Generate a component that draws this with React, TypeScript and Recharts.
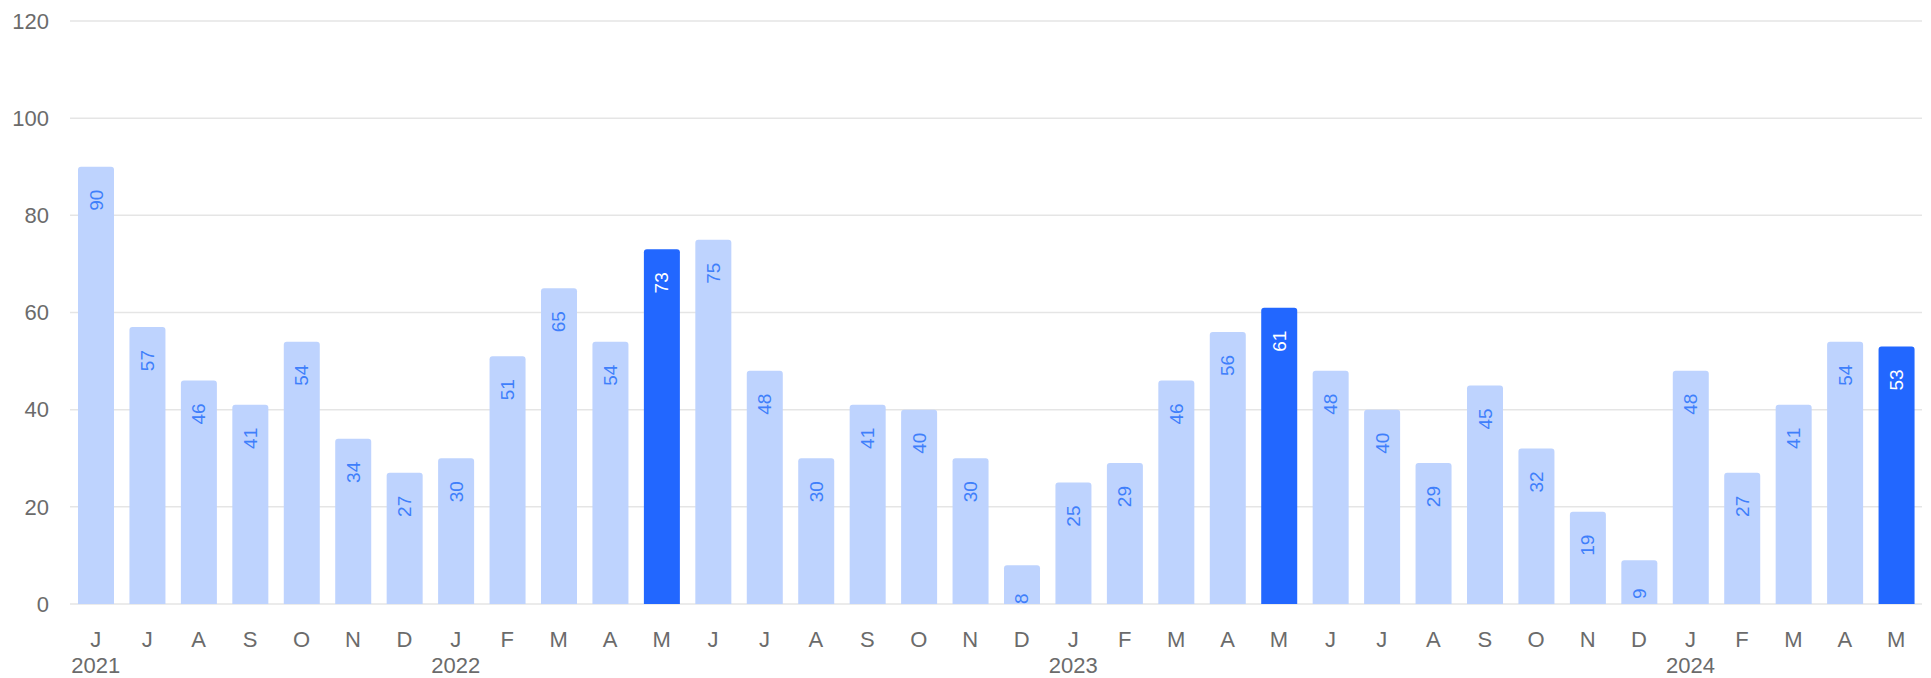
import React from 'react';
import { BarChart, Bar, XAxis, YAxis, CartesianGrid, Cell, LabelList } from 'recharts';

const months = ['J', 'J', 'A', 'S', 'O', 'N', 'D', 'J', 'F', 'M', 'A', 'M', 'J', 'J', 'A', 'S', 'O', 'N', 'D', 'J', 'F', 'M', 'A', 'M', 'J', 'J', 'A', 'S', 'O', 'N', 'D', 'J', 'F', 'M', 'A', 'M'];
const years = ['2021', '', '', '', '', '', '', '2022', '', '', '', '', '', '', '', '', '', '', '', '2023', '', '', '', '', '', '', '', '', '', '', '', '2024', '', '', '', ''];
const values = [90, 57, 46, 41, 54, 34, 27, 30, 51, 65, 54, 73, 75, 48, 30, 41, 40, 30, 8, 25, 29, 46, 56, 61, 48, 40, 29, 45, 32, 19, 9, 48, 27, 41, 54, 53];
const highlighted = [11, 23, 35];
const yTicks = [0, 20, 40, 60, 80, 100, 120];

const data = values.map((v, i) => ({ key: `m${i}`, value: v }));

const FONT = '"Liberation Sans", Arial, Helvetica, sans-serif';
const LIGHT = '#bed3fe';
const DARK = '#2267ff';

const MonthTick = (props: any) => {
    const { x, y, index } = props;
    return (
        <g>
            <text x={x} y={y + 35} textAnchor="middle" fill="#6b6b6b" fontSize={22} fontFamily={FONT}>
                {months[index]}
            </text>
            {years[index] ? (
                <text x={x} y={y + 61} textAnchor="middle" fill="#6b6b6b" fontSize={22} fontFamily={FONT}>
                    {years[index]}
                </text>
            ) : null}
        </g>
    );
};

const BarLabel = (props: any) => {
    const vb = props.viewBox || {};
    const x = props.x ?? vb.x;
    const y = props.y ?? vb.y;
    const width = props.width ?? vb.width;
    const height = props.height ?? vb.height;
    const index = props.index;
    const isDark = highlighted.includes(index);
    const cx = x + width / 2;
    const ty = y + 33.5;
    const clipId = `label-clip-${index}`;
    return (
        <g>
            <defs>
                <clipPath id={clipId}>
                    <rect x={x} y={y} width={width} height={height} />
                </clipPath>
            </defs>
            <g clipPath={`url(#${clipId})`}>
                <text
                    x={cx}
                    y={ty}
                    transform={`rotate(-90, ${cx}, ${ty})`}
                    textAnchor="middle"
                    dominantBaseline="central"
                    fill={isDark ? '#ffffff' : '#3f7ffb'}
                    fontSize={19}
                    fontFamily={FONT}
                >
                    {props.value}
                </text>
            </g>
        </g>
    );
};

export default function App() {
    return (
        <div style={{ width: 1915, height: 670 }}>
            <BarChart width={1915} height={670} data={data} margin={{ top: 13, right: 1, bottom: 0, left: 0 }}>
                <CartesianGrid vertical={false} stroke="#e5e5e5" strokeWidth={1.5} />
                <XAxis
                    dataKey="key"
                    axisLine={false}
                    tickLine={false}
                    interval={0}
                    height={74}
                    tick={<MonthTick />}
                />
                <YAxis
                    domain={[0, 120]}
                    ticks={yTicks}
                    axisLine={false}
                    tickLine={false}
                    width={62}
                    tickMargin={15}
                    tick={{ fontSize: 22, fill: '#6b6b6b', fontFamily: FONT }}
                />
                <Bar dataKey="value" barSize={36} radius={[3, 3, 0, 0]} isAnimationActive={false}>
                    {data.map((_, i) => (
                        <Cell key={`cell-${i}`} fill={highlighted.includes(i) ? DARK : LIGHT} />
                    ))}
                    <LabelList dataKey="value" content={<BarLabel />} />
                </Bar>
            </BarChart>
        </div>
    );
}
